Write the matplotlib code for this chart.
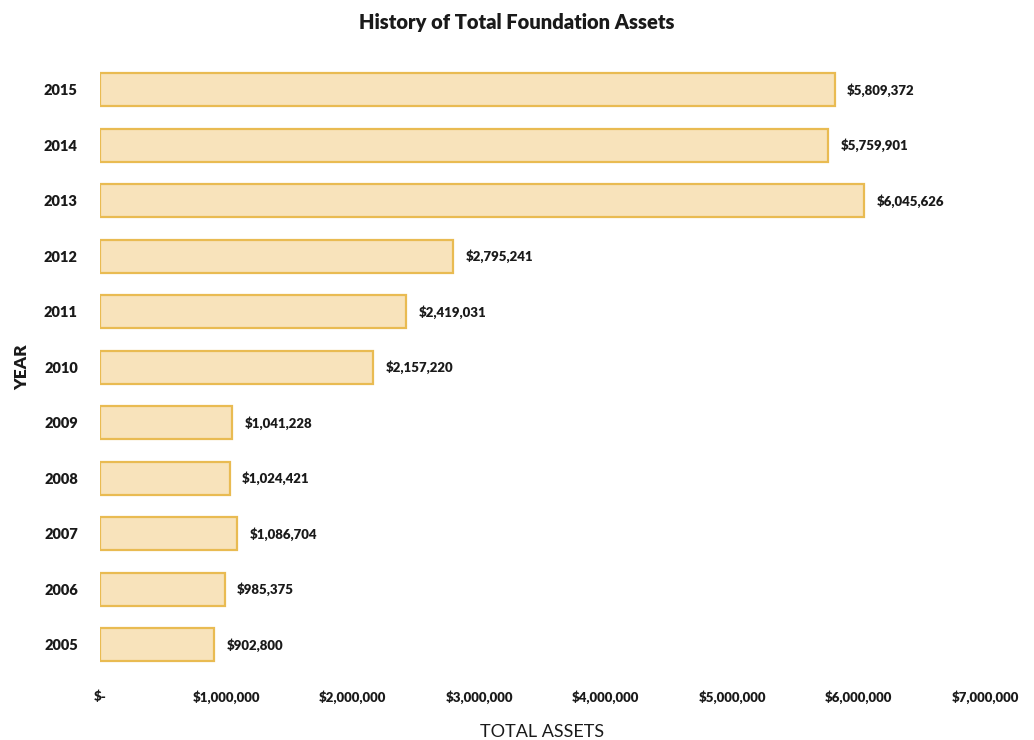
import numpy as np
import matplotlib.pyplot as plt

plt.rcParams['font.family'] = ['Lato', 'DejaVu Sans']

years = ['2005', '2006', '2007', '2008', '2009', '2010', '2011', '2012', '2013', '2014', '2015']
assets = [902800, 985375, 1086704, 1024421, 1041228, 2157220, 2419031, 2795241, 6045626, 5759901, 5809372]
value_labels = ['$902,800', '$985,375', '$1,086,704', '$1,024,421', '$1,041,228', '$2,157,220',
                '$2,419,031', '$2,795,241', '$6,045,626', '$5,759,901', '$5,809,372']
xticks = [0, 1000000, 2000000, 3000000, 4000000, 5000000, 6000000, 7000000]
xtick_labels = ['$-', '$1,000,000', '$2,000,000', '$3,000,000', '$4,000,000',
                '$5,000,000', '$6,000,000', '$7,000,000']

fig = plt.figure(figsize=(10.34, 7.4), dpi=100)
ax = fig.add_axes([0.0967, 0.0838, 0.856, 0.840])

y = np.arange(len(years))
ax.barh(y, assets, height=0.6, color='#f8e3bb', edgecolor='#e9bb52', linewidth=1.6)

for yi, v, lab in zip(y, assets, value_labels):
    ax.text(v + 100000, yi, lab, va='center', ha='left', fontsize=9.5, fontweight='heavy', color='#1a1a1a')

ax.set_xlim(0, 7000000)
ax.set_ylim(-0.6, 10.6)
ax.set_yticks(y)
ax.set_yticklabels(years, fontsize=10.5, fontweight='heavy', color='#1a1a1a')
ax.set_xticks(xticks)
ax.set_xticklabels(xtick_labels, fontsize=9.5, fontweight='heavy', color='#1a1a1a')
ax.tick_params(axis='both', length=0)
ax.tick_params(axis='y', pad=16)
ax.tick_params(axis='x', pad=9)
for s in ax.spines.values():
    s.set_visible(False)

ax.set_xlabel('TOTAL ASSETS', fontsize=13, color='#1a1a1a', labelpad=14)
ax.set_ylabel('YEAR', fontsize=12.5, fontweight='heavy', color='#1a1a1a', labelpad=10)
fig.suptitle('History of Total Foundation Assets', fontsize=14.5, fontweight='heavy', y=0.982, color='#1a1a1a')

fig.savefig('out.png', dpi=100)
